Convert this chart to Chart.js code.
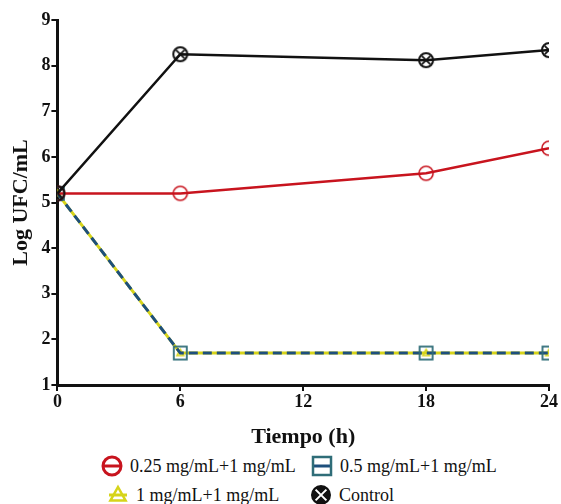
<!DOCTYPE html>
<html>
<head>
<meta charset="utf-8">
<script src="https://cdn.jsdelivr.net/npm/chart.js@4"></script>
<style>
  html, body { margin: 0; padding: 0; background: #fff; }
  #wrap { position: relative; width: 561px; height: 504px; }
  #legend { position: absolute; left: 0; top: 455px; width: 561px;
            font: 18px "Liberation Serif", serif; color: #111; }
  .it { position: absolute; display: flex; align-items: center; white-space: nowrap; }
  .it canvas { margin-right: 7px; }
</style>
</head>
<body>
<div id="wrap">
  <canvas id="c" width="561" height="455"></canvas>
  <div id="legend"></div>
</div>
<script>
const hours = [0, 6, 18, 24];
const seriesNames = ['0.25 mg/mL+1 mg/mL', '0.5 mg/mL+1 mg/mL', '1 mg/mL+1 mg/mL', 'Control'];
const red = [5.2, 5.2, 5.64, 6.19];
const blue = [5.2, 1.7, 1.7, 1.7];
const yellow = [5.2, 1.7, 1.7, 1.7];
const control = [5.2, 8.25, 8.12, 8.34];
const xTicks = [0, 6, 12, 18, 24];

const RED = '#c8141e', BLUE = '#1d4f7c', TEAL = '#2f6d78', YEL = '#d6d41a';
const SERIF = '"Liberation Serif", serif';

function pts(vals) { return vals.map((v, i) => ({ x: hours[i], y: v })); }

// marker glyphs, used both as chart point styles and legend icons
function glyph(kind, size, withLine) {
  const cv = document.createElement('canvas');
  cv.width = size; cv.height = size;
  const g = cv.getContext('2d');
  const c = size / 2;
  g.lineWidth = 2;
  if (withLine) {
    g.beginPath(); g.moveTo(2, c); g.lineTo(size - 2, c);
    g.strokeStyle = kind === 'tri' ? YEL : kind === 'sq' ? BLUE : kind === 'ctl' ? '#000' : RED;
    g.lineWidth = 3; g.stroke(); g.lineWidth = 2;
  }
  if (kind === 'circ') {
    g.strokeStyle = RED; g.lineWidth = withLine ? 3 : 1.6;
    g.beginPath(); g.arc(c, c, c - 2, 0, Math.PI * 2); g.stroke();
  } else if (kind === 'sq') {
    g.strokeStyle = TEAL; g.lineWidth = withLine ? 2.5 : 1.8;
    g.strokeRect(2, 2, size - 4, size - 4);
  } else if (kind === 'tri') {
    g.strokeStyle = YEL; g.lineWidth = withLine ? 2.5 : 1.6;
    const r = c - 3;
    g.beginPath(); g.moveTo(c, c - r); g.lineTo(c + r * 0.95, c + r * 0.7);
    g.lineTo(c - r * 0.95, c + r * 0.7); g.closePath(); g.stroke();
  } else if (kind === 'ctl') {
    const r = c - 2;
    g.strokeStyle = '#111'; g.lineWidth = 2;
    g.beginPath(); g.arc(c, c, r, 0, Math.PI * 2); g.stroke();
    const d = r * 0.6;
    g.lineWidth = 1.8;
    g.beginPath(); g.moveTo(c - d, c - d); g.lineTo(c + d, c + d);
    g.moveTo(c + d, c - d); g.lineTo(c - d, c + d); g.stroke();
    if (withLine) { g.fillStyle = '#111'; g.beginPath(); g.arc(c, c, r, 0, Math.PI * 2); g.fill();
      g.strokeStyle = '#fff'; g.lineWidth = 2;
      g.beginPath(); g.moveTo(c - d, c - d); g.lineTo(c + d, c + d);
      g.moveTo(c + d, c - d); g.lineTo(c - d, c + d); g.stroke(); }
  }
  return cv;
}

const tickFont = { family: SERIF, size: 18, weight: 'bold' };
const titleFont = { family: SERIF, size: 22, weight: 'bold' };

new Chart(document.getElementById('c'), {
  type: 'line',
  data: { datasets: [
    { label: seriesNames[0], data: pts(red), borderColor: RED, borderWidth: 2.5,
      pointStyle: glyph('circ', 18, false), order: 1 },
    { label: seriesNames[1], data: pts(blue), borderColor: BLUE, borderWidth: 3,
      borderDash: [9, 5], pointStyle: glyph('sq', 17, false), order: 2 },
    { label: seriesNames[2], data: pts(yellow), borderColor: YEL, borderWidth: 3,
      pointStyle: glyph('tri', 13, false), order: 3 },
    { label: seriesNames[3], data: pts(control), borderColor: '#111', borderWidth: 2.5,
      pointStyle: glyph('ctl', 18, false), order: 0 },
  ]},
  options: {
    responsive: false, animation: false,
    layout: { padding: { top: 20, right: 12, left: 4, bottom: 0 } },
    scales: {
      x: {
        type: 'linear', min: 0, max: 24,
        afterBuildTicks: (s) => { s.ticks = xTicks.map(v => ({ value: v })); },
        ticks: { color: '#111', font: tickFont, padding: 1 },
        grid: { display: true, drawOnChartArea: false, drawTicks: true, tickLength: 6, color: '#111', lineWidth: 2 },
        border: { display: true, color: '#111', width: 3 },
        title: { display: true, text: 'Tiempo (h)', color: '#111', font: titleFont, padding: { top: 10 } },
      },
      y: {
        min: 1, max: 9,
        ticks: { stepSize: 1, color: '#111', font: tickFont, padding: 1 },
        grid: { display: true, drawOnChartArea: false, drawTicks: true, tickLength: 6, color: '#111', lineWidth: 2 },
        border: { display: true, color: '#111', width: 3 },
        title: { display: true, text: 'Log UFC/mL', color: '#111', font: titleFont, padding: { bottom: 6 } },
      },
    },
    plugins: { legend: { display: false }, tooltip: { enabled: false } },
  },
});

// legend below chart, 2 columns
const legendKinds = ['circ', 'sq', 'tri', 'ctl'];
const legendPos = [[101, 0], [311, 0], [107, 29], [310, 29]];
const leg = document.getElementById('legend');
seriesNames.forEach((name, i) => {
  const it = document.createElement('div');
  it.className = 'it';
  it.style.left = legendPos[i][0] + 'px';
  it.style.top = legendPos[i][1] + 'px';
  it.appendChild(glyph(legendKinds[i], 22, true));
  const sp = document.createElement('span');
  sp.textContent = name;
  it.appendChild(sp);
  leg.appendChild(it);
});
</script>
</body>
</html>
